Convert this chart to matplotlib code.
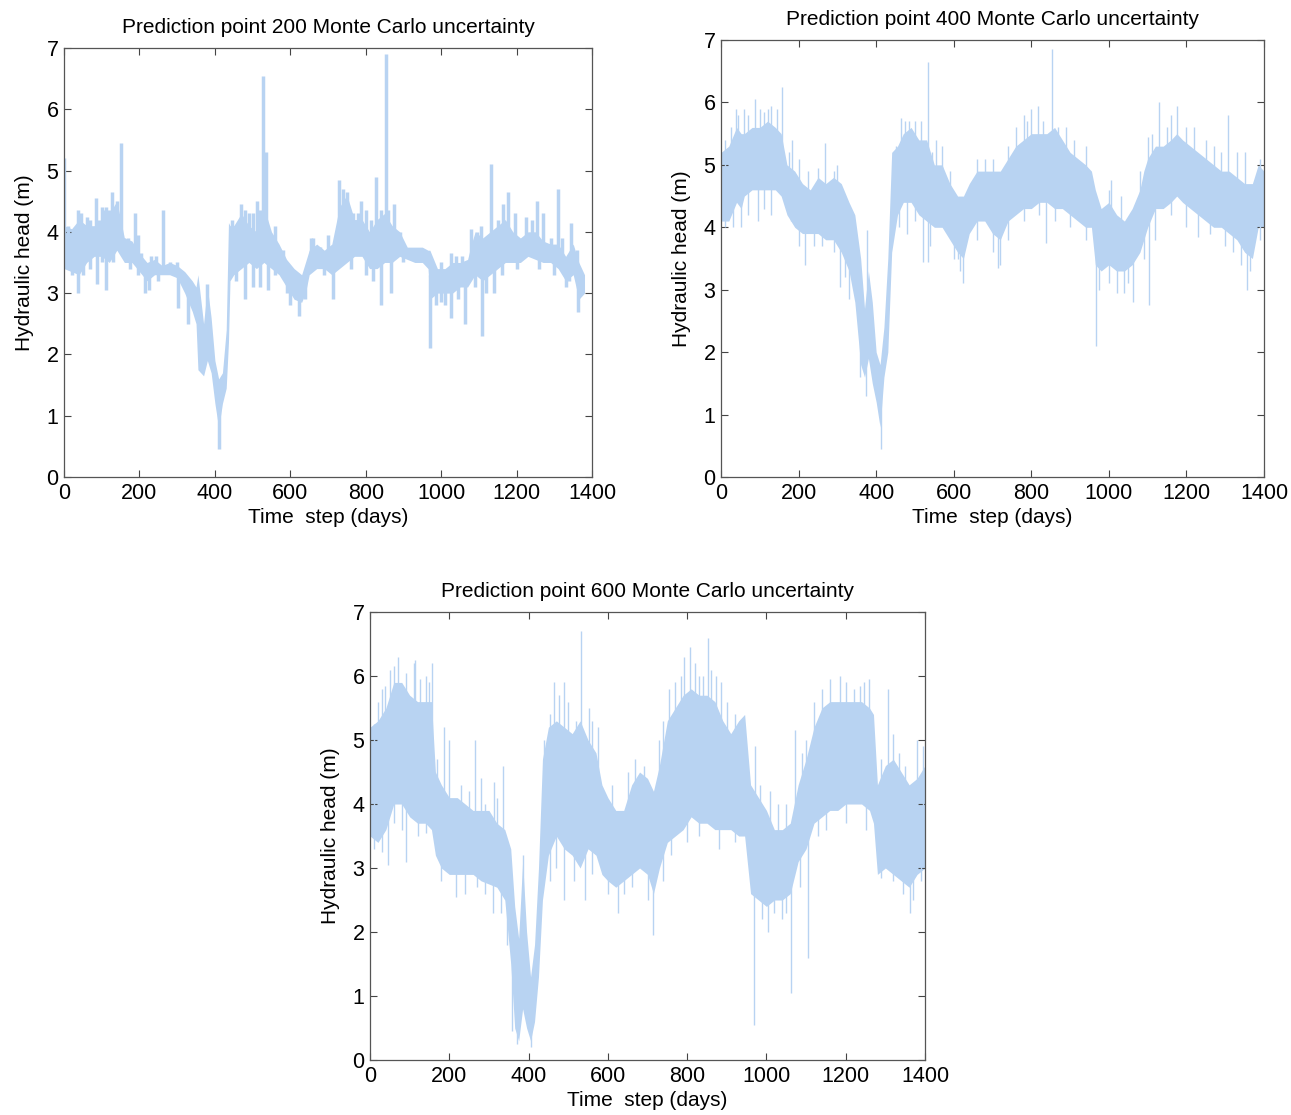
import numpy as np
import matplotlib
matplotlib.use('Agg')
import matplotlib.pyplot as plt

plt.rcParams['font.family'] = ['Liberation Sans', 'DejaVu Sans']

# ---- point 200: band envelope (day, low, high) and spikes ----
p200_days = [0, 20, 40, 60, 80, 100, 120, 140, 160, 180,
             200, 220, 240, 260, 280, 300, 320, 340, 350, 355,
             370, 380, 390, 400, 410, 420, 430, 436, 440, 450,
             470, 490, 510, 530, 550, 570, 590, 610, 630, 640,
             650, 670, 690, 710, 730, 750, 770, 790, 810, 830,
             850, 870, 890, 910, 930, 950, 965, 970, 990, 1010,
             1030, 1050, 1070, 1080, 1090, 1110, 1130, 1150, 1170, 1190,
             1210, 1230, 1250, 1270, 1290, 1310, 1330, 1350, 1365, 1380]
p200_lo = [3.4, 3.35, 3.3, 3.5, 3.6, 3.6, 3.5, 3.7, 3.5, 3.5,
           3.35, 3.2, 3.3, 3.3, 3.3, 3.25, 3.0, 2.7, 2.5, 1.75,
           1.65, 1.9, 1.7, 1.2, 0.8, 1.2, 1.45, 2.2, 3.2, 3.3,
           3.4, 3.5, 3.4, 3.5, 3.4, 3.3, 3.1, 2.9, 2.85, 3.0,
           3.3, 3.4, 3.4, 3.3, 3.4, 3.5, 3.6, 3.6, 3.4, 3.4,
           3.5, 3.5, 3.6, 3.55, 3.5, 3.5, 3.4, 2.9, 3.0, 3.0,
           3.0, 3.1, 3.1, 3.2, 3.3, 3.2, 3.3, 3.4, 3.5, 3.5,
           3.5, 3.6, 3.55, 3.5, 3.5, 3.4, 3.2, 3.3, 2.9, 3.0]
p200_hi = [4.1, 4.05, 4.2, 4.1, 4.1, 4.2, 4.3, 4.5, 3.9, 3.85,
           3.65, 3.5, 3.55, 3.45, 3.5, 3.45, 3.35, 3.2, 3.1, 3.3,
           2.5, 3.1, 2.6, 1.9, 1.6, 1.7, 2.4, 4.15, 4.1, 4.1,
           4.3, 4.1, 4.0, 4.4, 4.0, 3.8, 3.55, 3.4, 3.3, 3.5,
           3.7, 3.8, 3.7, 3.8, 4.4, 4.6, 4.2, 4.2, 4.0, 4.2,
           4.3, 4.1, 4.0, 3.75, 3.75, 3.75, 3.7, 3.7, 3.4, 3.4,
           3.5, 3.5, 3.55, 3.8, 4.0, 3.9, 4.0, 4.1, 4.2, 4.0,
           3.9, 4.0, 4.0, 3.85, 3.8, 3.8, 3.6, 3.8, 3.5, 3.3]
p200_up_days = [1, 10, 25, 38, 45, 60, 70, 84, 92, 100, 105, 112, 120, 128, 140, 150,
                160, 170, 187, 195, 205, 230, 245, 262, 280, 300, 380, 445, 455, 468,
                480, 490, 500, 512, 520, 528, 535, 560, 580, 655, 660, 680, 700, 720,
                730, 740, 750, 765, 780, 788, 800, 815, 828, 840, 853, 860, 875, 890,
                1000, 1025, 1040, 1055, 1080, 1095, 1105, 1131, 1150, 1165, 1176, 1195,
                1225, 1240, 1253, 1270, 1290, 1309, 1320, 1345, 1360]
p200_up_vals = [5.2, 4.1, 4.0, 4.35, 4.3, 4.25, 4.2, 4.55, 4.2, 4.4, 4.35, 4.4, 4.35, 4.65, 4.5, 5.45,
                3.9, 3.9, 4.3, 3.95, 3.65, 3.6, 3.6, 4.35, 3.5, 3.5, 3.15, 4.2, 4.1, 4.45,
                4.35, 4.3, 4.3, 4.5, 4.35, 6.55, 5.3, 4.1, 3.7, 3.9, 3.9, 3.75, 3.95, 3.85,
                4.85, 4.7, 4.65, 4.3, 4.3, 4.5, 4.35, 4.2, 4.9, 4.35, 6.9, 4.35, 4.45, 4.0,
                3.5, 3.65, 3.6, 3.6, 4.05, 4.0, 4.1, 5.1, 4.2, 4.45, 4.65, 4.3,
                4.25, 4.2, 4.5, 4.3, 3.9, 4.7, 3.9, 4.15, 3.7]
p200_down_days = [20, 38, 50, 70, 88, 100, 112, 130, 175, 195, 215, 225, 250, 302, 330,
                  410, 455, 480, 500, 520, 540, 560, 590, 600, 624, 640, 690, 714, 760,
                  800, 820, 841, 868, 900, 970, 985, 1000, 1010, 1027, 1045, 1064, 1090,
                  1108, 1120, 1140, 1160, 1200, 1260, 1300, 1330, 1340, 1362]
p200_down_vals = [3.3, 3.0, 3.3, 3.4, 3.15, 3.5, 3.05, 3.5, 3.4, 3.3, 3.0, 3.05, 3.2, 2.75, 2.5,
                  0.45, 3.2, 2.9, 3.1, 3.1, 3.05, 3.3, 3.0, 2.8, 2.62, 2.9, 3.3, 2.9, 3.4,
                  3.3, 3.2, 2.8, 3.0, 3.5, 2.1, 2.8, 2.85, 2.8, 2.6, 2.9, 2.5, 3.1,
                  2.3, 3.0, 3.0, 3.3, 3.4, 3.4, 3.3, 3.1, 3.2, 2.7]

# ---- point 400 ----
p400_days = [0, 20, 40, 52, 60, 80, 100, 120, 140, 155,
             170, 190, 210, 230, 250, 270, 290, 310, 330, 345,
             360, 370, 380, 390, 400, 410, 420, 430, 440, 455,
             470, 490, 510, 530, 550, 570, 590, 610, 625, 640,
             660, 680, 700, 720, 740, 760, 780, 800, 820, 840,
             860, 880, 900, 920, 940, 955, 965, 980, 1000, 1020,
             1040, 1060, 1080, 1090, 1100, 1120, 1140, 1160, 1175, 1190,
             1210, 1230, 1250, 1270, 1290, 1310, 1330, 1350, 1370, 1385, 1400]
p400_lo = [4.1, 4.1, 4.4, 4.3, 4.5, 4.6, 4.6, 4.6, 4.6, 4.5,
           4.2, 4.0, 3.9, 3.9, 3.9, 3.8, 3.8, 3.6, 3.3, 2.8,
           1.8, 1.6, 1.9, 1.5, 1.2, 0.8, 1.6, 2.0, 3.6, 4.2,
           4.4, 4.4, 4.2, 4.1, 4.0, 4.0, 3.8, 3.6, 3.5, 3.9,
           4.1, 4.1, 3.9, 3.8, 4.1, 4.2, 4.3, 4.3, 4.4, 4.4,
           4.3, 4.3, 4.2, 4.1, 4.0, 4.0, 3.4, 3.3, 3.4, 3.3,
           3.3, 3.4, 3.6, 3.8, 4.0, 4.3, 4.3, 4.4, 4.5, 4.4,
           4.3, 4.2, 4.1, 4.0, 4.0, 3.9, 3.8, 3.6, 3.5, 4.0, 4.0]
p400_hi = [5.2, 5.3, 5.6, 5.5, 5.5, 5.6, 5.6, 5.7, 5.6, 5.5,
           5.0, 4.9, 4.7, 4.6, 4.8, 4.7, 4.8, 4.7, 4.4, 4.2,
           3.5, 2.7, 3.3, 2.8, 2.0, 1.8, 2.4, 3.5, 5.2, 5.3,
           5.5, 5.6, 5.4, 5.4, 5.0, 5.0, 4.7, 4.5, 4.5, 4.7,
           4.9, 4.9, 4.9, 4.9, 5.1, 5.3, 5.4, 5.5, 5.5, 5.5,
           5.6, 5.4, 5.2, 5.1, 5.0, 4.9, 4.6, 4.3, 4.4, 4.2,
           4.1, 4.3, 4.6, 4.9, 5.1, 5.3, 5.3, 5.4, 5.5, 5.4,
           5.3, 5.2, 5.1, 5.0, 4.9, 4.9, 4.8, 4.7, 4.7, 5.0, 4.9]
p400_up_days = [10, 25, 38, 45, 60, 70, 87, 100, 110, 120, 130, 145, 156, 175, 183, 200,
                225, 250, 268, 290, 300, 377, 450, 465, 475, 485, 500, 515, 533, 545,
                555, 570, 590, 660, 680, 700, 740, 760, 780, 790, 800, 818, 830, 853,
                870, 890, 910, 940, 1000, 1005, 1030, 1080, 1100, 1110, 1129, 1150, 1160,
                1176, 1200, 1220, 1250, 1270, 1290, 1306, 1330, 1350, 1390]
p400_up_vals = [5.4, 5.6, 5.9, 5.8, 5.9, 5.8, 6.05, 5.9, 5.85, 5.9, 5.95, 5.9, 6.25, 5.2, 5.4, 5.1,
                4.9, 4.95, 5.35, 4.9, 5.0, 3.95, 5.3, 5.75, 5.7, 5.7, 5.7, 5.7, 6.65, 5.2,
                5.4, 5.3, 4.9, 5.1, 5.1, 5.1, 5.3, 5.6, 5.8, 5.7, 5.9, 5.95, 5.7, 6.85,
                5.6, 5.6, 5.4, 5.3, 4.6, 4.75, 4.5, 4.9, 5.45, 5.5, 6.0, 5.6, 5.8,
                5.95, 5.6, 5.6, 5.4, 5.3, 5.2, 5.8, 5.2, 5.2, 5.1]
p400_down_days = [10, 30, 52, 70, 95, 110, 130, 180, 200, 217, 240, 260, 290, 306, 320,
                  330, 358, 374, 412, 460, 480, 500, 522, 533, 540, 600, 610, 615, 625,
                  660, 700, 715, 720, 740, 780, 820, 838, 860, 900, 940, 968, 975, 1000,
                  1020, 1040, 1050, 1063, 1090, 1104, 1120, 1160, 1200, 1230, 1260, 1300,
                  1320, 1340, 1356, 1365, 1390]
p400_down_vals = [4.0, 4.0, 4.0, 4.2, 4.1, 4.3, 4.2, 4.1, 3.7, 3.4, 3.7, 3.7, 3.6, 3.05, 3.2,
                  2.85, 1.6, 1.3, 0.45, 4.0, 3.9, 4.1, 3.45, 3.45, 3.7, 3.5, 3.5, 3.3, 3.1,
                  3.8, 3.6, 3.35, 3.4, 3.8, 4.1, 4.2, 3.75, 4.1, 4.0, 3.8, 2.1, 3.0, 3.1,
                  2.95, 2.95, 3.1, 2.8, 3.5, 2.75, 3.8, 4.2, 4.0, 3.85, 3.9, 3.7,
                  3.6, 3.4, 3.0, 3.3, 3.8]

# ---- point 600 ----
p600_days = [0, 20, 40, 60, 80, 100, 120, 140, 155, 165,
             180, 200, 220, 240, 260, 280, 300, 320, 340, 355,
             365, 375, 385, 395, 405, 415, 425, 435, 450, 470,
             490, 510, 530, 550, 570, 585, 600, 620, 640, 660,
             680, 700, 715, 730, 750, 770, 790, 810, 830, 850,
             870, 890, 910, 930, 945, 960, 980, 1000, 1020, 1040,
             1060, 1080, 1100, 1120, 1140, 1160, 1180, 1200, 1220, 1240,
             1260, 1270, 1280, 1300, 1320, 1340, 1360, 1380, 1400]
p600_lo = [3.5, 3.4, 3.6, 4.0, 4.0, 3.8, 3.7, 3.7, 3.6, 3.2,
           3.0, 2.9, 2.9, 2.9, 2.9, 2.8, 2.75, 2.7, 2.5, 1.5,
           0.5, 0.3, 0.8, 0.5, 0.3, 0.6, 1.3, 2.5, 3.2, 3.5,
           3.3, 3.2, 3.0, 3.3, 3.2, 2.9, 2.8, 2.7, 2.8, 2.9,
           3.0, 2.9, 2.6, 3.0, 3.4, 3.5, 3.6, 3.8, 3.7, 3.7,
           3.6, 3.6, 3.6, 3.5, 3.5, 2.6, 2.5, 2.4, 2.5, 2.5,
           2.6, 3.1, 3.3, 3.7, 3.8, 3.9, 3.9, 4.0, 4.0, 4.0,
           3.9, 3.7, 2.9, 3.0, 2.9, 2.8, 2.7, 2.9, 3.0]
p600_hi = [5.2, 5.3, 5.5, 5.9, 5.9, 5.7, 5.6, 5.6, 5.6, 4.5,
           4.3, 4.1, 4.1, 4.0, 3.9, 3.9, 3.9, 3.7, 3.6, 3.3,
           2.4, 1.9, 3.1, 2.0, 1.3, 1.8, 3.0, 4.7, 5.2, 5.3,
           5.2, 5.1, 5.3, 5.0, 4.8, 4.3, 4.1, 3.9, 3.9, 4.3,
           4.5, 4.4, 4.2, 4.6, 5.3, 5.5, 5.7, 5.8, 5.7, 5.7,
           5.6, 5.3, 5.1, 5.3, 5.4, 4.3, 4.1, 3.9, 3.6, 3.6,
           3.7, 4.3, 4.7, 5.2, 5.5, 5.6, 5.6, 5.6, 5.6, 5.6,
           5.5, 5.4, 4.3, 4.6, 4.7, 4.5, 4.3, 4.4, 4.6]
p600_up_days = [10, 20, 30, 37, 50, 60, 70, 90, 110, 113, 125, 140, 148, 156, 170, 187,
                200, 230, 250, 265, 280, 290, 312, 320, 336, 385, 440, 455, 463, 478,
                490, 500, 520, 531, 553, 560, 575, 610, 650, 668, 690, 730, 740, 755,
                770, 785, 793, 808, 820, 830, 840, 852, 860, 873, 885, 900, 920, 970,
                985, 1010, 1030, 1050, 1073, 1090, 1100, 1120, 1140, 1160, 1185, 1200,
                1220, 1235, 1245, 1258, 1290, 1307, 1320, 1335, 1350, 1380, 1395]
p600_up_vals = [5.25, 5.6, 5.8, 5.85, 6.1, 6.15, 6.3, 6.05, 6.2, 6.25, 5.95, 6.0, 5.9, 6.2, 4.7, 5.2,
                5.0, 4.3, 4.2, 5.0, 4.4, 4.0, 4.35, 4.1, 4.6, 3.2, 5.0, 5.4, 5.9, 5.7,
                5.9, 5.6, 5.3, 6.7, 5.5, 5.3, 5.2, 4.3, 4.5, 4.7, 4.6, 5.0, 5.3, 5.8,
                5.9, 6.0, 6.3, 6.45, 6.2, 6.0, 6.0, 6.6, 6.1, 6.0, 5.9, 5.6, 5.4, 4.9,
                4.3, 4.2, 4.0, 4.0, 5.15, 4.8, 5.0, 5.6, 5.8, 5.95, 6.0, 5.9,
                5.8, 5.85, 5.9, 5.95, 4.7, 5.8, 5.1, 4.8, 4.6, 5.0, 4.9]
p600_down_days = [10, 30, 46, 60, 80, 91, 120, 140, 180, 217, 240, 270, 290, 310, 330,
                  345, 357, 372, 406, 455, 470, 490, 515, 542, 560, 600, 626, 640, 660,
                  700, 714, 740, 760, 800, 830, 880, 920, 968, 990, 1003, 1020, 1040,
                  1050, 1062, 1085, 1105, 1130, 1150, 1200, 1250, 1290, 1320, 1345, 1362,
                  1370, 1390]
p600_down_vals = [3.3, 3.25, 3.05, 3.7, 3.6, 3.1, 3.5, 3.55, 2.8, 2.55, 2.6, 2.7, 2.6, 2.3, 2.3,
                  1.8, 0.45, 0.25, 0.2, 2.8, 3.0, 2.5, 2.8, 2.5, 2.9, 2.6, 2.3, 2.6, 2.7,
                  2.5, 1.95, 2.8, 3.2, 3.4, 3.5, 3.3, 3.4, 0.55, 2.2, 2.0, 2.3, 2.2,
                  2.3, 1.05, 2.7, 1.6, 3.5, 3.6, 3.7, 3.6, 2.85, 2.8, 2.6, 2.3,
                  2.5, 2.8]

band_color = '#b8d3f2'
xticks = [0, 200, 400, 600, 800, 1000, 1200, 1400]
yticks = [0, 1, 2, 3, 4, 5, 6, 7]


def draw_panel(ax, days, lo, hi, up_d, up_v, dn_d, dn_v, title, spike_lw):
    ax.fill_between(days, lo, hi, color=band_color, lw=0)
    mid = (np.array(lo) + np.array(hi)) / 2
    ax.vlines(up_d, np.interp(up_d, days, mid), up_v, color=band_color, lw=spike_lw)
    ax.vlines(dn_d, np.interp(dn_d, days, mid), dn_v, color=band_color, lw=spike_lw)
    ax.set_xlim(0, 1400)
    ax.set_ylim(0, 7)
    ax.set_xticks(xticks)
    ax.set_yticks(yticks)
    ax.tick_params(direction='in', top=True, right=True, length=5,
                   labelsize=15.5, color='#444444', pad=4)
    for s in ax.spines.values():
        s.set_color('#555555')
        s.set_linewidth(0.9)
    ax.set_title(title, fontsize=15, pad=11)
    ax.set_xlabel('Time  step (days)', fontsize=15, labelpad=3)
    ax.set_ylabel('Hydraulic head (m)', fontsize=15, labelpad=9)


fig = plt.figure(figsize=(12.91, 11.15), dpi=100)
ax1 = fig.add_axes([0.0496, 0.5722, 0.409, 0.3848])
ax2 = fig.add_axes([0.5585, 0.5722, 0.4206, 0.3919])
ax3 = fig.add_axes([0.2866, 0.0493, 0.4299, 0.4018])

draw_panel(ax1, p200_days, p200_lo, p200_hi, p200_up_days, p200_up_vals,
           p200_down_days, p200_down_vals,
           'Prediction point 200 Monte Carlo uncertainty', 2.5)
draw_panel(ax2, p400_days, p400_lo, p400_hi, p400_up_days, p400_up_vals,
           p400_down_days, p400_down_vals,
           'Prediction point 400 Monte Carlo uncertainty', 1)
draw_panel(ax3, p600_days, p600_lo, p600_hi, p600_up_days, p600_up_vals,
           p600_down_days, p600_down_vals,
           'Prediction point 600 Monte Carlo uncertainty', 1)

plt.savefig('out.png', dpi=100)
